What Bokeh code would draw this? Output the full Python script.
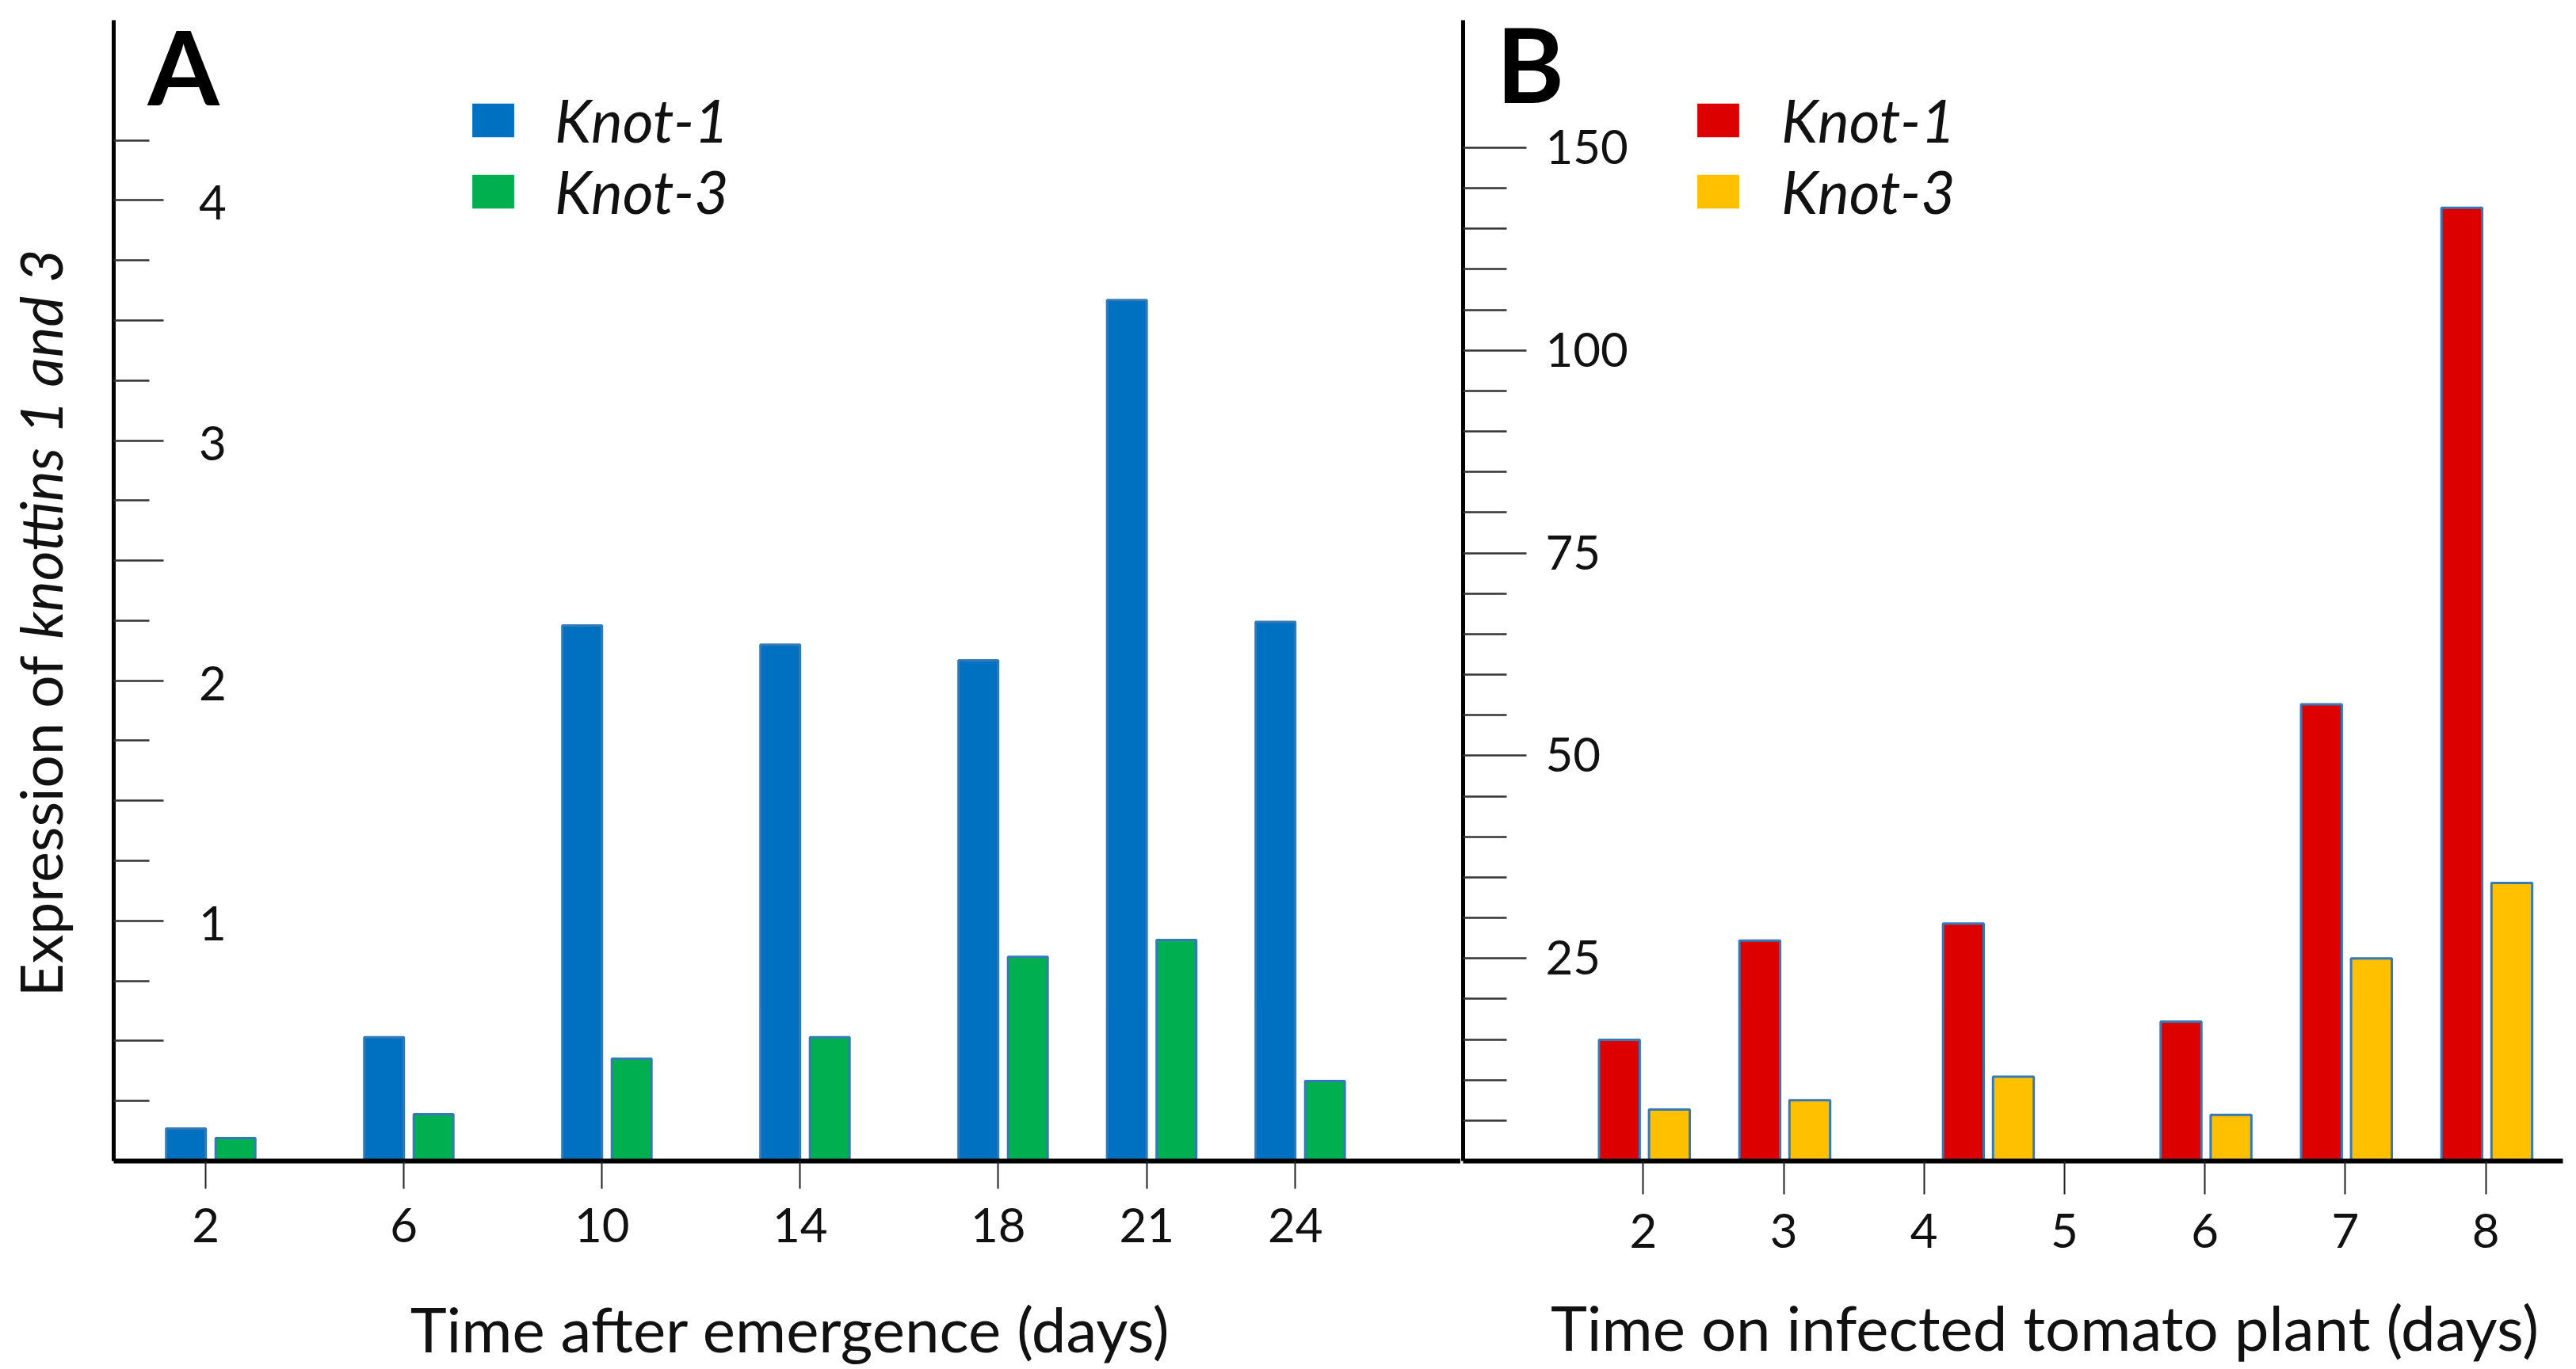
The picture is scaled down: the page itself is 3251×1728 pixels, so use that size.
import math
from bokeh.plotting import figure
from bokeh.models import Range1d, FixedTicker, Label, Legend, LegendItem, ColumnDataSource
from bokeh.transform import dodge
from bokeh.layouts import row, column
from bokeh.core.properties import value
from bokeh.embed import file_html
from bokeh.resources import INLINE

# ---------------- data ----------------
a_days = [2, 6, 10, 14, 18, 21, 24]
a_knot1 = [0.135, 0.515, 2.23, 2.15, 2.085, 3.585, 2.245]
a_knot3 = [0.096, 0.195, 0.426, 0.515, 0.85, 0.92, 0.333]
a_ytick_values = [1, 2, 3, 4]
a_ytick_labels = ["1", "2", "3", "4"]
a_major_ticks = [0.5, 1, 1.5, 2, 2.5, 3, 3.5, 4]
a_minor_ticks = [0.25, 0.75, 1.25, 1.75, 2.25, 2.75, 3.25, 3.75, 4.25]

b_positions = [2, 3, 4.45, 6, 7, 8]
b_knot1 = [14.95, 27.2, 29.3, 17.2, 56.35, 117.6]
b_knot3 = [6.35, 7.5, 10.4, 5.7, 25.0, 34.3]
b_xticks = [2, 3, 4, 5, 6, 7, 8]
b_ytick_values = [25, 50, 75, 100, 125]
b_ytick_labels = ["25", "50", "75", "100", "150"]
b_minor_ticks = [5, 10, 15, 20, 30, 35, 40, 45, 55, 60, 65, 70, 80, 85, 90, 95,
                 105, 110, 115, 120]

legend_labels = ["Knot-1", "Knot-3"]
a_xtitle = "Time after emergence (days)"
b_xtitle = "Time on infected tomato plant (days)"
ytitle_plain = "Expression of"
ytitle_italic = "knottins 1 and 3"

# ---------------- style ----------------
FONT = "Lato"
BLUE, GREEN = "#0070C0", "#00B050"
RED, YELLOW = "#DD0000", "#FFC000"
OUTLINE = "#3479B8"
TXT = "#111111"

FH = 1440          # frame height of the two panels
TOP, BOTTOM = 25, 135
TITLE_SIZE = "78px"
YTITLE_SIZE = "73px"
TICK_SIZE = "60px"
LEG_SIZE = "75px"

A_LEFT, A_FW = 5, 1700
A_X = (0.141, 27.341)
A_Y = (0, 4.75)
B_LEFT, B_FW, B_RIGHT = 3, 1388, 9
B_X = (0.717, 8.55)
B_Y = (0, 140.73)

STRIP_W = 138
TOTAL_H = 1726
PANEL_H = TOP + FH + BOTTOM


def make_fig(fw, left, right, xr, yr):
    p = figure(frame_width=fw, frame_height=FH, min_border_left=left,
               min_border_right=right, min_border_top=TOP, min_border_bottom=BOTTOM,
               x_range=Range1d(*xr), y_range=Range1d(*yr),
               output_backend="svg", toolbar_location=None)
    p.xgrid.visible = False
    p.ygrid.visible = False
    p.outline_line_color = None
    p.background_fill_color = "white"
    p.border_fill_color = "white"
    return p


def make_strip(w, h, xr, yr):
    p = figure(frame_width=w, frame_height=h, min_border=0,
               x_range=Range1d(*xr), y_range=Range1d(*yr),
               x_axis_location=None, y_axis_location=None,
               output_backend="svg", toolbar_location=None)
    p.xgrid.visible = False
    p.ygrid.visible = False
    p.outline_line_color = None
    p.background_fill_color = "white"
    p.border_fill_color = "white"
    return p


def style_axes(p, xticks, ymajor, yminor, ymaj_len, ymin_len, xtick_len):
    xa = p.xaxis[0]
    xa.ticker = FixedTicker(ticks=xticks)
    xa.axis_line_width = 6
    xa.axis_line_color = "black"
    xa.major_tick_in = 0
    xa.major_tick_out = xtick_len
    xa.major_tick_line_width = 2
    xa.major_tick_line_color = "#222222"
    xa.minor_tick_line_color = None
    xa.major_label_text_font = FONT
    xa.major_label_text_font_size = TICK_SIZE
    xa.major_label_text_color = TXT
    xa.major_label_standoff = 24

    ya = p.yaxis[0]
    ya.ticker = FixedTicker(ticks=ymajor, minor_ticks=yminor)
    ya.axis_line_width = 5
    ya.axis_line_color = "black"
    ya.major_tick_in = ymaj_len
    ya.major_tick_out = 0
    ya.minor_tick_in = ymin_len
    ya.minor_tick_out = 0
    ya.major_tick_line_width = 2.5
    ya.minor_tick_line_width = 2.5
    ya.major_tick_line_color = "#333333"
    ya.minor_tick_line_color = "#333333"
    ya.major_label_overrides = {t: "" for t in ymajor}
    ya.major_label_standoff = 0


def converters(fw, xr, yr, frame_left_page, frame_bottom_page=TOP + FH):
    sx = fw / (xr[1] - xr[0])
    sy = FH / (yr[1] - yr[0])
    fx = lambda px: xr[0] + (px - frame_left_page) / sx
    fy = lambda py: yr[0] + (frame_bottom_page - py) / sy
    return fx, fy


def bars(p, src, xfield, off, top, width, color):
    r = p.vbar(x=dodge(xfield, off), top=top, width=width, source=src,
               fill_color=color, line_color=None)
    p.vbar(x=dodge(xfield, off), top=top, width=width, source=src,
           fill_color=None, line_color=OUTLINE, line_width=3)
    return r


def make_legend(renderers, xloc, standoff):
    return Legend(items=[LegendItem(label=value(lbl), renderers=[r])
                         for lbl, r in zip(legend_labels, renderers)],
                  location=(xloc, 1179), glyph_width=66, glyph_height=53,
                  label_height=90, spacing=0, padding=0, margin=0,
                  label_standoff=standoff, label_text_font=FONT,
                  label_text_font_size=LEG_SIZE, label_text_font_style="italic",
                  label_text_color=TXT, border_line_color=None,
                  background_fill_alpha=0)


# ================= panel A =================
pA = make_fig(A_FW, A_LEFT, 0, A_X, A_Y)
style_axes(pA, a_days, a_major_ticks, a_minor_ticks, 63, 45, 35)
fxA, fyA = converters(A_FW, A_X, A_Y, STRIP_W + A_LEFT)

srcA = ColumnDataSource(dict(day=a_days, k1=a_knot1, k3=a_knot3))
rA1 = bars(pA, srcA, "day", -0.4, "k1", 0.8, BLUE)
rA3 = bars(pA, srcA, "day", 0.6, "k3", 0.8, GREEN)

ytA = ColumnDataSource(dict(x=[A_X[0]] * len(a_ytick_values), y=a_ytick_values, t=a_ytick_labels))
pA.text(x="x", y="y", text="t", source=ytA, x_offset=125, y_offset=3,
        text_align="center", text_baseline="middle", text_font=value(FONT),
        text_font_size=TICK_SIZE, text_color=TXT)

pA.add_layout(make_legend([rA1, rA3], 446, 45))
pA.add_layout(Label(x=fxA(186), y=fyA(82), text="A", text_font=FONT,
                    text_font_size="130px", text_font_style="bold", text_color="black",
                    text_align="left", text_baseline="middle"))

# ================= panel B =================
pB = make_fig(B_FW, B_LEFT, B_RIGHT, B_X, B_Y)
style_axes(pB, b_xticks, b_ytick_values, b_minor_ticks, 80, 55, 42)
B_FRAME_LEFT = STRIP_W + A_LEFT + A_FW + B_LEFT
fxB, fyB = converters(B_FW, B_X, B_Y, B_FRAME_LEFT)

srcB = ColumnDataSource(dict(pos=b_positions, k1=b_knot1, k3=b_knot3))
rB1 = bars(pB, srcB, "pos", -0.17, "k1", 0.29, RED)
rB3 = bars(pB, srcB, "pos", 0.186, "k3", 0.29, YELLOW)

ytB = ColumnDataSource(dict(x=[B_X[0]] * len(b_ytick_values), y=b_ytick_values, t=b_ytick_labels))
pB.text(x="x", y="y", text="t", source=ytB, x_offset=104, y_offset=-1,
        text_align="left", text_baseline="middle", text_font=value(FONT),
        text_font_size=TICK_SIZE, text_color=TXT)

pB.add_layout(make_legend([rB1, rB3], 289, 47))
pB.add_layout(Label(x=fxB(1888), y=fyB(79), text="B", text_font=FONT,
                    text_font_size="130px", text_font_style="bold", text_color="black",
                    text_align="left", text_baseline="middle"))

# ================= title strips =================
pT = make_strip(STRIP_W, TOTAL_H, (0, STRIP_W), (TOTAL_H, 0))
pT.add_layout(Label(x=50, y=827, text=ytitle_plain, angle=math.pi / 2,
                    text_font=FONT, text_font_size=YTITLE_SIZE, text_color=TXT,
                    text_align="right", text_baseline="middle"))
pT.add_layout(Label(x=50, y=806, text=ytitle_italic, angle=math.pi / 2,
                    text_font=FONT, text_font_size=YTITLE_SIZE, text_font_style="italic",
                    text_color=TXT, text_align="left", text_baseline="middle"))

S_W = A_LEFT + A_FW + B_LEFT + B_FW + B_RIGHT
S_H = TOTAL_H - PANEL_H
pS = make_strip(S_W, S_H, (STRIP_W, STRIP_W + S_W), (TOTAL_H, PANEL_H))
pS.add_layout(Label(x=997, y=1676, text=a_xtitle, text_font=FONT,
                    text_font_size=TITLE_SIZE, text_color=TXT,
                    text_align="center", text_baseline="middle"))
pS.add_layout(Label(x=2580, y=1674, text=b_xtitle, text_font=FONT,
                    text_font_size=TITLE_SIZE, text_color=TXT,
                    text_align="center", text_baseline="middle"))

layout = row(pT, column(row(pA, pB), pS))
open("out.html", "w").write(file_html(layout, INLINE))
